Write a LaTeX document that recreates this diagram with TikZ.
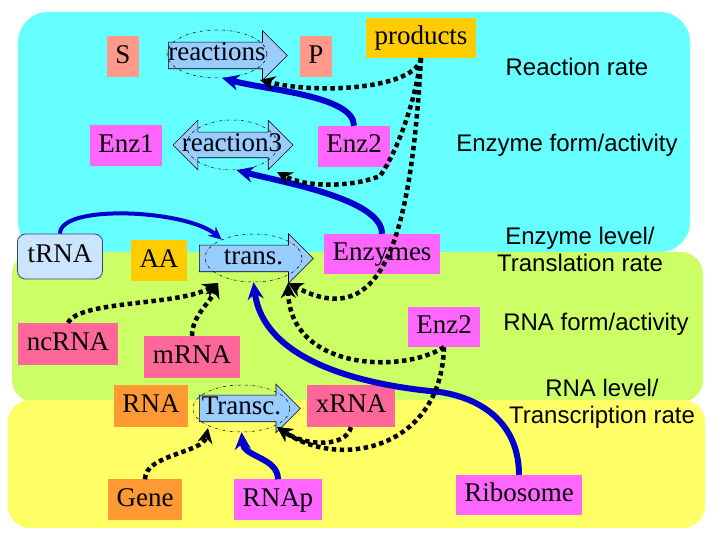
\documentclass[tikz,border=0pt]{standalone}
\usepackage{fontspec}
\setmainfont{Liberation Serif}
\newfontfamily\sansfont{Liberation Sans}
\usetikzlibrary{shapes.geometric, shapes.arrows, arrows.meta}

\definecolor{bandcyan}{HTML}{66FFFF}
\definecolor{bandgreen}{HTML}{CCFF66}
\definecolor{bandyellow}{HTML}{FFFF66}
\definecolor{salmon}{HTML}{FF9A8A}
\definecolor{enzpink}{HTML}{FF66FF}
\definecolor{rnapink}{HTML}{FF6699}
\definecolor{metabgold}{HTML}{FFCC00}
\definecolor{dnaorange}{HTML}{FF9933}
\definecolor{arrowblue}{HTML}{99CCFF}
\definecolor{trnablue}{HTML}{CCE5FF}
\definecolor{trnaedge}{HTML}{334477}
\definecolor{flowblue}{HTML}{0000CC}

\begin{document}
\begin{tikzpicture}[
        x=1pt, y=1pt,
        box/.style = {rectangle, minimum height=41pt, inner xsep=8.5pt, inner ysep=0pt, text height=19pt, text depth=6pt, font=\fontsize{27}{30}\selectfont},
        oval/.style = {ellipse, draw, dash dot, line width=0.5pt, inner sep=0pt, text height=19pt, text depth=6pt, font=\fontsize{27}{30}\selectfont},
        arrowbody/.style = {draw, line width=0.6pt, fill=arrowblue, inner sep=0pt, text height=13pt, text depth=13pt},
        blockarrow/.style = {arrowbody, single arrow, single arrow head extend=11.5pt, anchor=tail},
        twoway/.style = {arrowbody, double arrow, double arrow head extend=12pt, text height=12.5pt, text depth=12.5pt},
        ratetext/.style = {align=center, font=\sansfont\fontsize{24}{27}\selectfont},
        push/.style = {draw=flowblue, line width=6pt, -{Stealth[length=17pt, width=16pt]}},
        signal/.style = {draw=black, line width=4.5pt, dash pattern=on 4.5pt off 3.5pt, -{Stealth[length=15pt, width=15pt]}}
    ]
        \useasboundingbox (0,0) rectangle (720,540);

        % Background bands
        \fill[bandcyan, rounded corners=30pt] (18,288) rectangle (690,528);
        \fill[bandgreen, rounded corners=22pt] (12,138) rectangle (703,288);
        \fill[bandyellow, rounded corners=22pt] (8,12) rectangle (705,140);

        % Reaction layer
        \node[box, fill=salmon] (substrate) at (123,483) {S};
        \node[blockarrow, minimum height=119pt] (rxnarrow) at (168,484.5) {};
        \node[oval, minimum width=100pt, minimum height=48pt] (rxnoval) at (217,486) {\makebox[0pt]{reactions}};
        \node[box, fill=salmon] (product) at (316,483) {P};
        \node[box, fill=metabgold, minimum height=40pt] (products) at (421,502) {products};
        \node[ratetext] (raterxn) at (577,473) {Reaction rate};

        % Enzyme layer
        \node[box, fill=enzpink] (enzone) at (126,394) {Enz1};
        \node[twoway, minimum height=120pt] (rxnthree) at (233,395) {};
        \node[oval, minimum width=91pt, minimum height=50pt] (rxnthreeoval) at (232,395) {\makebox[0pt]{reaction3}};
        \node[box, fill=enzpink] (enztwo) at (354,393.5) {Enz2};
        \node[ratetext] (rateenzform) at (567,395) {Enzyme form/activity};

        % Translation layer
        \node[box, fill=trnablue, draw=trnaedge, line width=0.8pt, rounded corners=8pt, minimum width=85pt, minimum height=45pt] (trna) at (60,283.5) {tRNA};
        \node[box, fill=metabgold] (aa) at (159,279) {AA};
        \node[blockarrow, minimum height=114pt] (transarrow) at (199,281.5) {};
        \node[oval, minimum width=97pt, minimum height=48pt] (transoval) at (253.5,282) {\makebox[0pt]{trans.}};
        \node[box, fill=enzpink, minimum height=40pt] (enzymes) at (382,286) {Enzymes};
        \node[ratetext] (rateenzlevel) at (580,291) {Enzyme level/\\Translation rate};

        % RNA layer
        \node[box, fill=rnapink, minimum height=42pt] (ncrna) at (68,196) {ncRNA};
        \node[box, fill=rnapink, minimum height=42pt] (mrna) at (192,183) {mRNA};
        \node[box, fill=enzpink, minimum height=40pt] (enztwob) at (444,213) {Enz2};
        \node[ratetext] (raternaform) at (596,216) {RNA form/activity};

        % Transcription layer
        \node[box, fill=dnaorange, minimum height=42pt] (rna) at (151,134) {RNA};
        \node[blockarrow, minimum height=101pt, single arrow head extend=11pt] (transcarrow) at (199,131.5) {};
        \node[oval, minimum width=97pt, minimum height=47pt] (transcoval) at (241.5,131.5) {\makebox[0pt]{Transc.}};
        \node[box, fill=rnapink, minimum height=42pt] (xrna) at (351,134) {xRNA};
        \node[ratetext] (raternalevel) at (602,136) {RNA level/\\Transcription rate};
        \node[box, fill=dnaorange] (gene) at (145,40) {Gene};
        \node[box, fill=enzpink] (rnap) at (278,40) {RNAp};
        \node[box, fill=enzpink, minimum height=40pt] (ribosome) at (519,45) {Ribosome};

        % Arrow heads of the process arrows
        \coordinate (rxnfoot) at ([shift={(43,-26)}]rxnoval.center);
        \coordinate (rxnthreefoot) at ([shift={(45,-27)}]rxnthreeoval.center);
        \coordinate (transfoot) at ([shift={(34.5,-25)}]transoval.center);
        \coordinate (transheel) at ([shift={(-35.5,-25)}]transoval.center);
        \coordinate (transcfoot) at ([shift={(35.5,-18.5)}]transcoval.center);
        \coordinate (transcheel) at ([shift={(-33.5,-19.5)}]transcoval.center);

        % Catalysis
        \draw[push] (enztwo.north) .. controls +(0,30) and +(45,-12) .. (rxnoval.-78);
        \draw[push] (enzymes.north) .. controls +(0,35) and +(45,-12) .. (rxnthreeoval.-80);
        \draw[push, line width=4pt, -{Stealth[length=13pt, width=12pt]}] (trna.north) .. controls +(0,30) and +(-35,30) .. (transoval.150);
        \draw[push] (ribosome.north) .. controls +(0,45) and +(50,-8) .. (440,148) .. controls +(-80,7) and +(10,-78) .. (transoval.south);
        \draw[push] (rnap.north) .. controls +(0,22) and +(2,-25) .. (transcoval.south);

        % Regulation
        \draw[signal] (products.south) .. controls +(-5,-30) and +(60,-15) .. (rxnfoot);
        \draw[signal] (products.south) .. controls +(-7,-50) and +(15,21) .. (380,364) .. controls +(-30,-12) and +(28,-15) .. (rxnthreefoot);
        \draw[signal] (products.south) .. controls +(-10,-180) and +(95,-50) .. (transfoot);
        \draw[signal] (enztwob.south) .. controls +(-43,-27) and +(2,-87) .. (transfoot);
        \draw[signal] (ncrna.north) .. controls +(12,23) and +(-38,-23) .. (transheel);
        \draw[signal] (mrna.north) .. controls +(0,20) and +(-8,-20) .. (transheel);
        \draw[signal] (enztwob.south) .. controls +(-3,-102) and +(63,-43) .. (transcfoot);
        \draw[signal] (xrna.south) .. controls +(-5,-20) and +(30,-20) .. (transcfoot);
        \draw[signal] (gene.north) .. controls +(0,25) and +(-5,-25) .. (transcheel);
    \end{tikzpicture}
\end{document}
